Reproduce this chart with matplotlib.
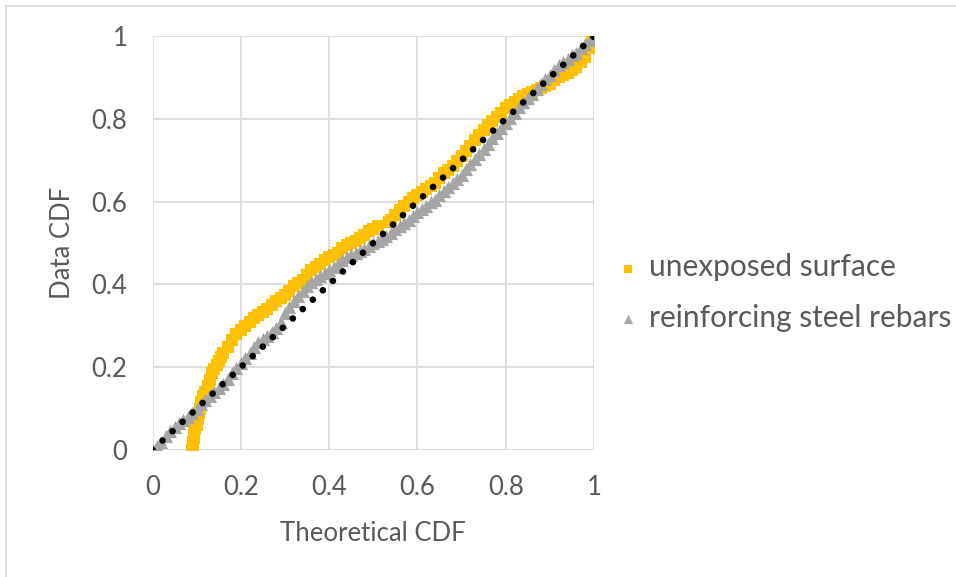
import matplotlib
matplotlib.use('Agg')
import matplotlib.pyplot as plt
from matplotlib.patches import Rectangle

plt.rcParams['font.family'] = ['Lato', 'DejaVu Sans']

# unexposed surface (theoretical CDF, data CDF)
unexp_x = [0.090, 0.091, 0.092, 0.094, 0.095, 0.097, 0.100, 0.102, 0.105, 0.108,
           0.110, 0.115, 0.12, 0.125, 0.13, 0.135, 0.14, 0.145, 0.15, 0.155,
           0.16, 0.17, 0.18, 0.19, 0.20, 0.21, 0.22, 0.23, 0.24, 0.25,
           0.26, 0.27, 0.28, 0.29, 0.30, 0.31, 0.32, 0.33, 0.34, 0.35,
           0.36, 0.37, 0.38, 0.39, 0.40, 0.41, 0.42, 0.43, 0.44, 0.45,
           0.46, 0.47, 0.48, 0.49, 0.50, 0.51, 0.535, 0.54, 0.55, 0.56,
           0.57, 0.58, 0.59, 0.60, 0.61, 0.62, 0.63, 0.64, 0.65, 0.66,
           0.67, 0.68, 0.69, 0.70, 0.71, 0.72, 0.73, 0.74, 0.75, 0.76,
           0.77, 0.78, 0.79, 0.80, 0.81, 0.82, 0.83, 0.84, 0.85, 0.86,
           0.87, 0.88, 0.89, 0.90, 0.91, 0.92, 0.93, 0.94, 0.95, 0.96,
           0.97, 0.98, 0.99, 0.995, 1.0]
unexp_y = [0.00, 0.01, 0.02, 0.03, 0.04, 0.05, 0.06, 0.075, 0.09, 0.10,
           0.115, 0.13, 0.14, 0.155, 0.17, 0.185, 0.195, 0.205, 0.215, 0.225,
           0.235, 0.25, 0.265, 0.28, 0.29, 0.30, 0.31, 0.318, 0.325, 0.333,
           0.34, 0.35, 0.36, 0.367, 0.375, 0.383, 0.395, 0.403, 0.41, 0.423,
           0.435, 0.443, 0.45, 0.458, 0.465, 0.47, 0.475, 0.487, 0.495, 0.50,
           0.505, 0.512, 0.52, 0.528, 0.535, 0.54, 0.55, 0.555, 0.568, 0.58,
           0.59, 0.60, 0.608, 0.615, 0.622, 0.63, 0.637, 0.645, 0.657, 0.67,
           0.677, 0.685, 0.697, 0.71, 0.722, 0.735, 0.748, 0.76, 0.773, 0.785,
           0.795, 0.805, 0.815, 0.825, 0.833, 0.84, 0.848, 0.855, 0.86, 0.865,
           0.87, 0.875, 0.88, 0.885, 0.893, 0.90, 0.905, 0.91, 0.918, 0.925,
           0.937, 0.95, 0.97, 0.985, 1.0]

# reinforcing steel rebars
rebar_x = [0.00, 0.01, 0.02, 0.03, 0.04, 0.05, 0.06, 0.07, 0.08, 0.09,
           0.10, 0.11, 0.12, 0.13, 0.14, 0.15, 0.16, 0.17, 0.18, 0.19,
           0.20, 0.21, 0.22, 0.23, 0.24, 0.25, 0.26, 0.27, 0.28, 0.29,
           0.30, 0.31, 0.32, 0.33, 0.34, 0.35, 0.36, 0.37, 0.38, 0.39,
           0.40, 0.41, 0.42, 0.43, 0.44, 0.45, 0.46, 0.47, 0.48, 0.49,
           0.50, 0.51, 0.52, 0.53, 0.54, 0.55, 0.56, 0.57, 0.58, 0.59,
           0.60, 0.61, 0.62, 0.63, 0.64, 0.65, 0.66, 0.67, 0.68, 0.69,
           0.70, 0.71, 0.72, 0.73, 0.74, 0.75, 0.76, 0.77, 0.78, 0.79,
           0.80, 0.81, 0.82, 0.83, 0.84, 0.85, 0.86, 0.87, 0.88, 0.89,
           0.90, 0.91, 0.92, 0.93, 0.94, 0.95, 0.96, 0.97, 0.98, 0.99, 1.00]
rebar_y = [0.00, 0.01, 0.02, 0.033, 0.045, 0.055, 0.065, 0.073, 0.08, 0.09,
           0.10, 0.11, 0.12, 0.13, 0.14, 0.15, 0.16, 0.172, 0.185, 0.197,
           0.21, 0.222, 0.235, 0.248, 0.26, 0.268, 0.275, 0.285, 0.295, 0.31,
           0.33, 0.345, 0.36, 0.373, 0.385, 0.395, 0.405, 0.413, 0.42, 0.428,
           0.435, 0.443, 0.45, 0.458, 0.465, 0.47, 0.475, 0.48, 0.485, 0.493,
           0.50, 0.505, 0.51, 0.518, 0.525, 0.533, 0.54, 0.548, 0.555, 0.565,
           0.575, 0.583, 0.59, 0.598, 0.605, 0.615, 0.625, 0.635, 0.645, 0.655,
           0.665, 0.678, 0.69, 0.703, 0.715, 0.728, 0.74, 0.753, 0.765, 0.778,
           0.79, 0.803, 0.815, 0.828, 0.84, 0.85, 0.86, 0.873, 0.885, 0.895,
           0.905, 0.918, 0.93, 0.938, 0.945, 0.953, 0.96, 0.97, 0.98, 0.99, 1.0]

# reference line
ref_x = [0, 1]
ref_y = [0, 1]

ticks = [0, 0.2, 0.4, 0.6, 0.8, 1]
tick_labels = ['0', '0.2', '0.4', '0.6', '0.8', '1']

text_col = '#595959'
grid_col = '#D9D9D9'

fig = plt.figure(figsize=(9.56, 5.77), dpi=100)
ax = fig.add_axes([152.5 / 956, 1 - 450 / 577, (594 - 152.5) / 956, (450 - 36) / 577])

ax.scatter(unexp_x, unexp_y, marker='s', s=65, color='#FFC000', linewidths=0,
           label='unexposed surface', zorder=3)
ax.scatter(rebar_x, rebar_y, marker='^', s=90, color='#A5A5A5', linewidths=0,
           label='reinforcing steel rebars', zorder=4)
ax.plot(ref_x, ref_y, color='black', lw=4.8, linestyle=(0, (0.01, 2.05)),
        dash_capstyle='round', zorder=5)

ax.set_xlim(0, 1)
ax.set_ylim(0, 1)
ax.set_xticks(ticks)
ax.set_xticklabels(tick_labels)
ax.set_yticks(ticks)
ax.set_yticklabels(tick_labels)
ax.tick_params(length=0, labelsize=18.5, labelcolor=text_col)
ax.tick_params(axis='x', pad=18)
ax.tick_params(axis='y', pad=18)
ax.grid(True, color=grid_col, lw=1.2)
ax.set_axisbelow(True)
for s in ax.spines.values():
    s.set_visible(False)

ax.set_xlabel('Theoretical CDF', fontsize=18.5, color=text_col, labelpad=15)
ax.set_ylabel('Data CDF', fontsize=18.5, color=text_col, labelpad=12)

leg = ax.legend(loc='center left', bbox_to_anchor=(0.975, 0.38), frameon=False,
                fontsize=21.5, labelspacing=0.75, handletextpad=0.1,
                handlelength=1.2, markerscale=0.7)
for t in leg.get_texts():
    t.set_color(text_col)

fig.add_artist(Rectangle((5.5 / 956, -0.5), 2, 1 - 5.5 / 577 + 0.5,
                         transform=fig.transFigure, fill=False,
                         edgecolor=grid_col, lw=1.2))

fig.savefig('out.png', dpi=100)
